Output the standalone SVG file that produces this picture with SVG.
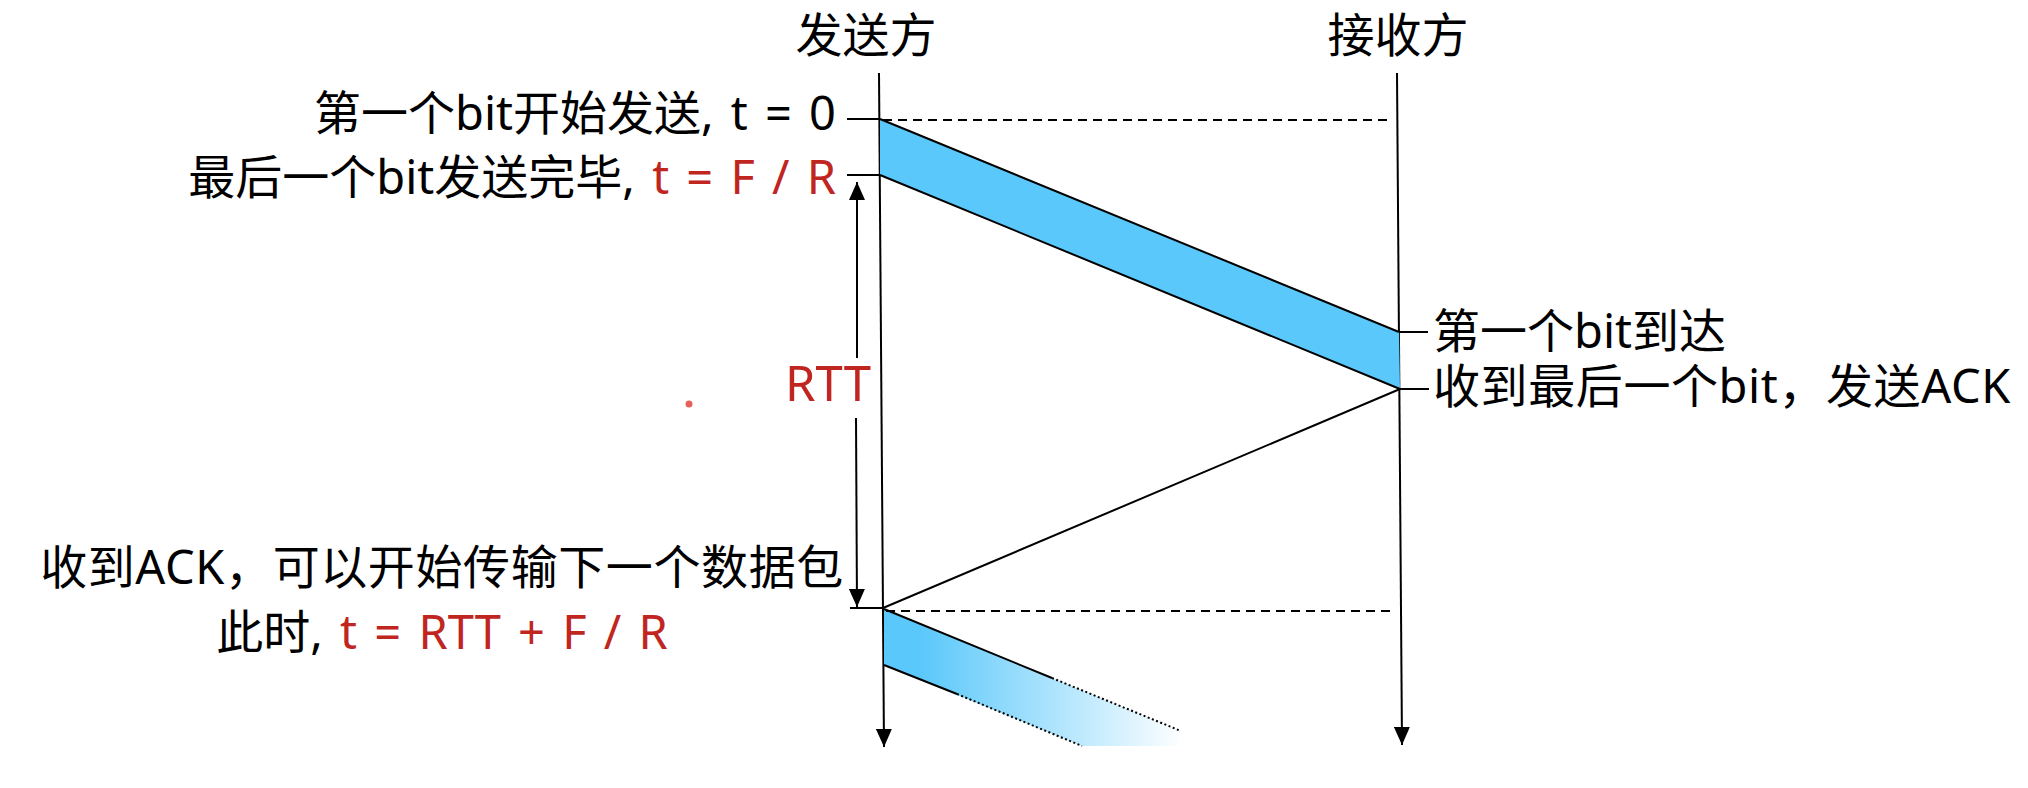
<svg xmlns="http://www.w3.org/2000/svg" width="2028" height="788" viewBox="0 0 2028 788">
<style>
text{font-family:"Noto Sans","Noto Sans CJK SC",sans-serif;font-size:47px;fill:#000}
.ws{word-spacing:5px}
.ls{letter-spacing:0.6px}
.red{fill:#C0261F}
.ln{stroke:#000;stroke-width:2;fill:none}
.dash{stroke:#000;stroke-width:2;stroke-dasharray:9 6;fill:none}
.dot{stroke:#000;stroke-width:2;stroke-dasharray:2 2.5;fill:none}
</style>
<defs>
<marker id="ah" viewBox="0 0 18 16" refX="18" refY="8" markerWidth="18" markerHeight="16" markerUnits="userSpaceOnUse" orient="auto">
<path d="M0,0 L18,8 L0,16 z" fill="#000"/>
</marker>
<linearGradient id="fade" gradientUnits="userSpaceOnUse" x1="884" y1="0" x2="1185" y2="0">
<stop offset="0" stop-color="#5AC8FA"/>
<stop offset="0.12" stop-color="#5AC8FA"/>
<stop offset="1" stop-color="#ffffff"/>
</linearGradient>
</defs>
<rect width="2028" height="788" fill="#fff"/>
<g id="sender">
<text x="866" y="52" text-anchor="middle">发送方</text>
<path class="ln" d="M879,73 L884,747" marker-end="url(#ah)"/>
</g>
<g id="receiver">
<text x="1398" y="52" text-anchor="middle">接收方</text>
<path class="ln" d="M1397,73 L1402,745" marker-end="url(#ah)"/>
</g>
<g id="packet1">
<polygon points="880,119 1399,332 1400,389 880,175" fill="#5AC8FA"/>
<path class="ln" d="M880,119 L1399,332 M880,175 L1400,389"/>
</g>
<g id="packet2">
<polygon points="884,609 1181,731 1176,746 1082,746 884,665" fill="url(#fade)"/>
<path class="ln" d="M884,609 L1052,678 M884,665 L957,694"/>
<path class="dot" d="M1052,678 L1181,731 M957,694 L1082,746"/>
</g>
<g id="connectors">
<path class="dash" d="M883,120 L1390,120"/>
<path class="dash" d="M886,611 L1390,611"/>
<path class="ln" d="M1400,389 L883,608"/>
<path class="ln" d="M847,119 L879,119 M847,175 L880,175 M850,608 L883,608"/>
<path class="ln" d="M1399,332 L1428,332 M1400,389 L1429,389"/>
<path class="ln" d="M857,358 L857,182" marker-end="url(#ah)"/>
<path class="ln" d="M856,418 L857,607" marker-end="url(#ah)"/>
</g>
<g id="label-start">
<text x="836" y="130" text-anchor="end" class="ws">第一个bit开始发送, t = 0</text>
</g>
<g id="label-end">
<text x="836" y="194" text-anchor="end" class="ws">最后一个bit发送完毕, <tspan class="red">t = F / R</tspan></text>
</g>
<g id="label-rtt">
<text x="828" y="401" text-anchor="middle" class="red" style="font-size:49px">RTT</text>
<circle cx="689" cy="404" r="3.5" fill="#E8605A"/>
</g>
<g id="label-arrive">
<text x="1433" y="348">第一个bit到达</text>
</g>
<g id="label-ack">
<text x="1433" y="403" class="ls">收到最后一个bit，发送ACK</text>
</g>
<g id="label-next">
<text x="442" y="584" text-anchor="middle" class="ls">收到ACK，可以开始传输下一个数据包</text>
<text x="442" y="649" text-anchor="middle" class="ws">此时, <tspan class="red">t = RTT + F / R</tspan></text>
</g>
</svg>
